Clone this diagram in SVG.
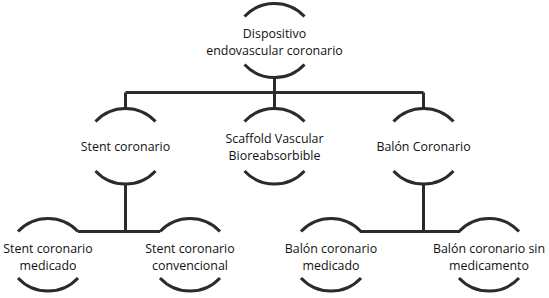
<svg xmlns="http://www.w3.org/2000/svg" width="549" height="298" viewBox="0 0 549 298">
<style>
.arc{fill:none;stroke:#2b2b2b;stroke-width:3}
.ln{fill:none;stroke:#2b2b2b;stroke-width:3}
text{font-family:"Open Sans","Liberation Sans",sans-serif;font-size:12.4px;fill:#111111;text-anchor:middle}
</style>
<rect width="549" height="298" fill="#ffffff"/>
<g id="connectors">
<path class="ln" d="M274.5 77 V92.5 M125.5 92.5 H423.5 M125.5 92.5 V108 M274.5 92.5 V108 M423.5 92.5 V108"/>
<path class="ln" d="M125.5 184 V231.5 M78 231.5 H160"/>
<path class="ln" d="M423.5 184 V231.5 M360 231.5 H460"/>
</g>
<g id="n0">
<path class="arc" d="M244.5 16.5 A41 41 0 0 1 304.5 16.5 M244.5 64.5 A41 41 0 0 0 304.5 64.5"/>
<text x="274.5" y="38">Dispositivo</text>
<text x="274.5" y="55">endovascular coronario</text>
</g>
<g id="n1">
<path class="arc" d="M95.5 121.5 A41 41 0 0 1 155.5 121.5 M95.5 171 A41 41 0 0 0 155.5 171"/>
<text x="125.5" y="151">Stent coronario</text>
</g>
<g id="n2">
<path class="arc" d="M244.5 121.5 A41 41 0 0 1 304.5 121.5 M244.5 171 A41 41 0 0 0 304.5 171"/>
<text x="274.5" y="143">Scaffold Vascular</text>
<text x="274.5" y="160">Bioreabsorbible</text>
</g>
<g id="n3">
<path class="arc" d="M393.5 121.5 A41 41 0 0 1 453.5 121.5 M393.5 171 A41 41 0 0 0 453.5 171"/>
<text x="423.5" y="151">Balón Coronario</text>
</g>
<g id="n4">
<path class="arc" d="M18 231.5 A41 41 0 0 1 78 231.5 M18 278 A41 41 0 0 0 78 278"/>
<text x="48" y="253">Stent coronario</text>
<text x="48" y="269.5">medicado</text>
</g>
<g id="n5">
<path class="arc" d="M160 231.5 A41 41 0 0 1 220 231.5 M160 278 A41 41 0 0 0 220 278"/>
<text x="190" y="253">Stent coronario</text>
<text x="190" y="269.5">convencional</text>
</g>
<g id="n6">
<path class="arc" d="M301 231.5 A41 41 0 0 1 361 231.5 M301 278 A41 41 0 0 0 361 278"/>
<text x="331" y="253">Balón coronario</text>
<text x="331" y="269.5">medicado</text>
</g>
<g id="n7">
<path class="arc" d="M459 231.5 A41 41 0 0 1 519 231.5 M459 278 A41 41 0 0 0 519 278"/>
<text x="489" y="253">Balón coronario sin</text>
<text x="489" y="269.5">medicamento</text>
</g>
</svg>
